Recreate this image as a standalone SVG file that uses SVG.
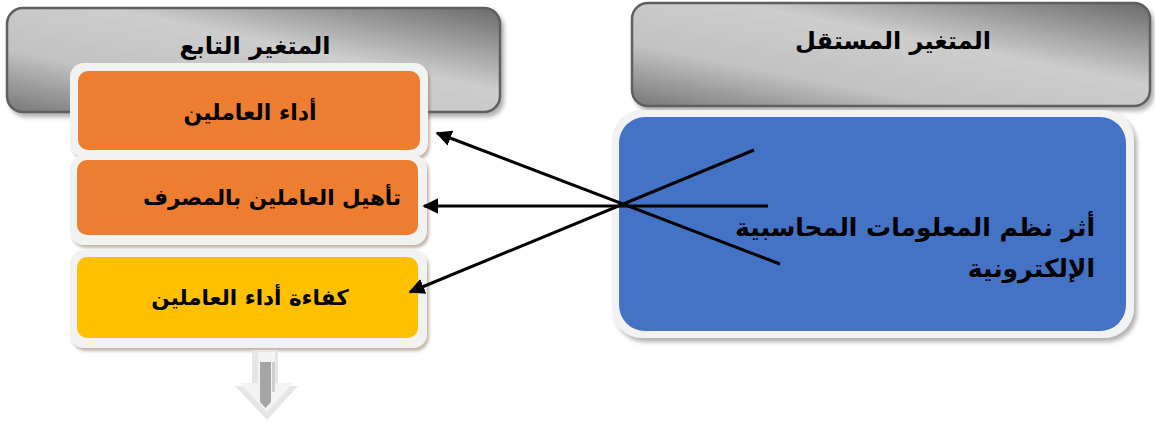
<svg xmlns="http://www.w3.org/2000/svg" width="1155" height="422" viewBox="0 0 1155 422">
<defs>
<linearGradient id="gray" x1="0" y1="1" x2="1" y2="0">
<stop offset="0" stop-color="#777"/>
<stop offset="0.3" stop-color="#c2c2c2"/>
<stop offset="0.6" stop-color="#cdcdcd"/>
<stop offset="1" stop-color="#6a6a6a"/>
</linearGradient>
<filter id="sh" x="-5%" y="-10%" width="115%" height="130%">
<feDropShadow dx="3" dy="4" stdDeviation="2" flood-color="#555" flood-opacity="0.45"/>
</filter>
<filter id="sh2" x="-5%" y="-10%" width="115%" height="130%">
<feDropShadow dx="2" dy="3" stdDeviation="1.5" flood-color="#8a6a50" flood-opacity="0.5"/>
</filter>
<marker id="ahb" viewBox="0 0 10 10" refX="9" refY="5" markerWidth="16" markerHeight="16" markerUnits="userSpaceOnUse" orient="auto">
<path d="M0,0 L10,5 L0,10 z" fill="#000"/>
</marker>
</defs>
<style>
.hdr{fill:url(#gray);stroke:#5e5e5e;stroke-width:2.5}
.frame{fill:#f2f2f2}
.t{font-family:"DejaVu Sans","Liberation Sans",sans-serif;font-weight:bold;fill:#000;direction:rtl}
.ln{stroke:#000;stroke-width:3;fill:none}
</style>
<g id="header-dependent">
<rect class="hdr" x="7" y="8" width="493" height="104" rx="16" filter="url(#sh)"/>
<text class="t" x="255" y="54" font-size="24" text-anchor="middle">المتغير التابع</text>
</g>
<g id="header-independent">
<rect class="hdr" x="632" y="3" width="518" height="103" rx="16" filter="url(#sh)"/>
<text class="t" x="893" y="49" font-size="24" text-anchor="middle">المتغير المستقل</text>
</g>
<g id="node-performance">
<rect class="frame" x="70" y="63" width="358" height="94" rx="14" filter="url(#sh2)"/>
<rect x="78" y="71" width="342" height="79" rx="10" fill="#ed7d31"/>
<text class="t" x="250" y="120" font-size="22" text-anchor="middle">أداء العاملين</text>
</g>
<g id="node-qualification">
<rect class="frame" x="70" y="155" width="357" height="90" rx="14" filter="url(#sh2)"/>
<rect x="77" y="160" width="341" height="75" rx="10" fill="#ed7d31"/>
<text class="t" x="272" y="205" font-size="21.5" text-anchor="middle">تأهيل العاملين بالمصرف</text>
</g>
<g id="node-efficiency">
<rect class="frame" x="70" y="250" width="357" height="98" rx="14" filter="url(#sh2)"/>
<rect x="77" y="257" width="341" height="81" rx="10" fill="#ffc000"/>
<text class="t" x="250" y="305" font-size="21.5" text-anchor="middle">كفاءة أداء العاملين</text>
</g>
<g id="node-ais">
<rect class="frame" x="612" y="110" width="522" height="228" rx="30" filter="url(#sh)"/>
<rect x="619" y="117" width="507" height="214" rx="26" fill="#4472c4"/>
<text class="t" x="1095" y="236" font-size="25" text-anchor="start">أثر نظم المعلومات المحاسبية</text>
<text class="t" x="1095" y="277" font-size="25" text-anchor="start">الإلكترونية</text>
</g>
<g id="connectors">
<line class="ln" x1="780" y1="264" x2="437" y2="133" marker-end="url(#ahb)"/>
<line class="ln" x1="768" y1="206" x2="424" y2="206" marker-end="url(#ahb)"/>
<line class="ln" x1="754" y1="150" x2="410" y2="292" marker-end="url(#ahb)"/>
</g>
<g id="down-arrow">
<path d="M252,350 L278,350 L278,386 L298,386 L267,420 L235,386 L252,386 Z" fill="#e6e6e6"/>
<path d="M258,352 L275,352 L275,383 L293,383 L267,412 L240,383 L258,383 Z" fill="#f4f4f4"/>
<rect x="260" y="362" width="11" height="40" fill="#a6a6a6"/>
<path d="M260,402 L265.5,408 L271,402 Z" fill="#a6a6a6"/>
<rect x="272" y="362" width="3" height="30" fill="#cfcfcf"/>
</g>
</svg>
